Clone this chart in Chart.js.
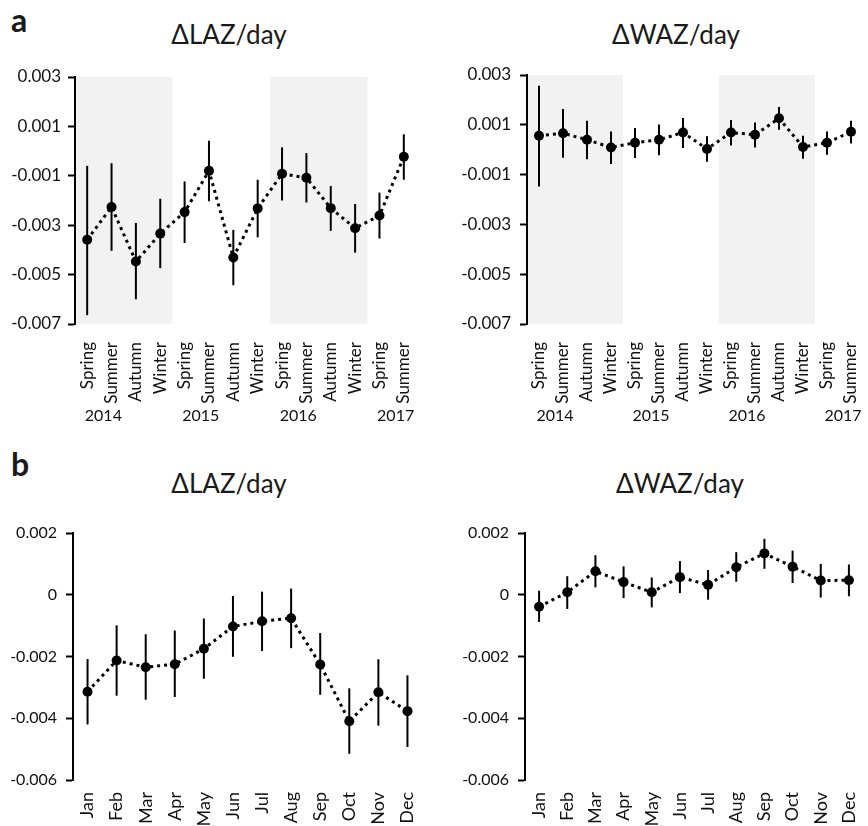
<!DOCTYPE html>
<html>
<head>
<meta charset="utf-8">
<script src="https://cdn.jsdelivr.net/npm/chart.js@4.4.1/dist/chart.umd.min.js"></script>
<style>
  body { margin: 0; background: #fff; width: 868px; height: 826px; position: relative; overflow: hidden; font-family: Lato, sans-serif; color: #1a1a1a; }
  canvas { position: absolute; }
  .title { position: absolute; font-size: 26px; line-height: 1; white-space: nowrap; transform: translateX(-50%); }
  .panel { position: absolute; font-size: 32px; font-weight: bold; line-height: 1; }
</style>
</head>
<body>
<div class="panel" style="left:11px;top:4px">a</div>
<div class="panel" style="left:11px;top:448px">b</div>
<div class="title" style="left:229px;top:21px">ΔLAZ/day</div>
<div class="title" style="left:676px;top:21px">ΔWAZ/day</div>
<div class="title" style="left:229px;top:470px">ΔLAZ/day</div>
<div class="title" style="left:680px;top:470px">ΔWAZ/day</div>

<canvas id="lazSeason" width="434" height="375" style="left:0;top:55px"></canvas>
<canvas id="wazSeason" width="434" height="375" style="left:434px;top:55px"></canvas>
<canvas id="lazMonth" width="434" height="321" style="left:0;top:505px"></canvas>
<canvas id="wazMonth" width="434" height="321" style="left:434px;top:505px"></canvas>

<script>
// categories
var seasons = ['Spring', 'Summer', 'Autumn', 'Winter', 'Spring', 'Summer', 'Autumn', 'Winter',
               'Spring', 'Summer', 'Autumn', 'Winter', 'Spring', 'Summer'];
var years = ['2014', '2015', '2016', '2017'];
var yearStart = [0, 4, 8, 12];
var shadedSeasons = [[0, 3], [8, 11]];
var months = ['Jan', 'Feb', 'Mar', 'Apr', 'May', 'Jun', 'Jul', 'Aug', 'Sep', 'Oct', 'Nov', 'Dec'];

// tick labels
var seasonTicks = [-0.007, -0.005, -0.003, -0.001, 0.001, 0.003];
var monthTicks = [-0.006, -0.004, -0.002, 0, 0.002];

// a: by season
var lazSeason   = [-0.00359, -0.00226, -0.00447, -0.00334, -0.00247, -0.00080, -0.00431, -0.00232, -0.00092, -0.00108, -0.00231, -0.00312, -0.00261, -0.00023];
var lazSeasonHi = [-0.00060, -0.00049, -0.00291, -0.00193, -0.00123,  0.00042, -0.00319, -0.00116,  0.00015, -0.00008, -0.00141, -0.00214, -0.00168,  0.00068];
var lazSeasonLo = [-0.00664, -0.00404, -0.00600, -0.00474, -0.00372, -0.00203, -0.00543, -0.00349, -0.00200, -0.00208, -0.00323, -0.00411, -0.00354, -0.00116];

var wazSeason   = [0.00056, 0.00066, 0.00040, 0.00009, 0.00028, 0.00040, 0.00069, 0.00003, 0.00069, 0.00060, 0.00126, 0.00011, 0.00028, 0.00072];
var wazSeasonHi = [0.00257, 0.00163, 0.00116, 0.00073, 0.00087, 0.00101, 0.00127, 0.00054, 0.00119, 0.00109, 0.00171, 0.00056, 0.00073, 0.00116];
var wazSeasonLo = [-0.00148, -0.00032, -0.00038, -0.00057, -0.00033, -0.00022, 0.00007, -0.00048, 0.00017, 0.00009, 0.00080, -0.00036, -0.00020, 0.00025];

// b: by month
var lazMonth   = [-0.00314, -0.00213, -0.00235, -0.00225, -0.00175, -0.00103, -0.00086, -0.00076, -0.00226, -0.00410, -0.00316, -0.00377];
var lazMonthHi = [-0.00208, -0.00099, -0.00128, -0.00116, -0.00077, -0.00004,  0.00010,  0.00020, -0.00124, -0.00303, -0.00209, -0.00261];
var lazMonthLo = [-0.00420, -0.00327, -0.00340, -0.00331, -0.00272, -0.00201, -0.00182, -0.00173, -0.00324, -0.00515, -0.00424, -0.00493];

var wazMonth   = [-0.00039, 0.00008, 0.00076, 0.00041, 0.00008, 0.00057, 0.00032, 0.00089, 0.00134, 0.00091, 0.00046, 0.00047];
var wazMonthHi = [0.00013, 0.00060, 0.00128, 0.00092, 0.00056, 0.00109, 0.00080, 0.00138, 0.00181, 0.00143, 0.00100, 0.00098];
var wazMonthLo = [-0.00088, -0.00046, 0.00024, -0.00011, -0.00041, 0.00005, -0.00016, 0.00042, 0.00084, 0.00038, -0.00009, -0.00005];

var INK = '#111';

function fmt(v) {
  if (Math.abs(v) < 1e-9) return '0';
  return v.toFixed(3);
}

// shaded bands, error bars and year labels
function makeExtras(bands, lo, hi, showYears) {
  return {
    id: 'extras',
    beforeDraw: function (chart) {
      var ctx = chart.ctx, a = chart.chartArea, x = chart.scales.x;
      var half = (x.getPixelForValue(1) - x.getPixelForValue(0)) / 2;
      ctx.save();
      ctx.fillStyle = '#f2f2f2';
      bands.forEach(function (b) {
        var l = x.getPixelForValue(b[0]) - half;
        var r = x.getPixelForValue(b[1]) + half;
        ctx.fillRect(l, a.top, r - l, a.bottom - a.top);
      });
      ctx.restore();
    },
    beforeDatasetsDraw: function (chart) {
      var ctx = chart.ctx, x = chart.scales.x, y = chart.scales.y;
      ctx.save();
      ctx.strokeStyle = '#000';
      ctx.lineWidth = 2;
      lo.forEach(function (v, i) {
        var px = x.getPixelForValue(i);
        ctx.beginPath();
        ctx.moveTo(px, y.getPixelForValue(v));
        ctx.lineTo(px, y.getPixelForValue(hi[i]));
        ctx.stroke();
      });
      ctx.restore();
    },
    afterDraw: function (chart) {
      if (!showYears) return;
      var ctx = chart.ctx, a = chart.chartArea, x = chart.scales.x;
      ctx.save();
      ctx.fillStyle = INK;
      ctx.font = '16px Lato';
      ctx.textAlign = 'center';
      ctx.textBaseline = 'middle';
      years.forEach(function (yr, k) {
        var i = yearStart[k];
        var mid = (x.getPixelForValue(i) + x.getPixelForValue(i + 1)) / 2 + 4;
        ctx.fillText(yr, mid, a.bottom + 92);
      });
      ctx.restore();
    }
  };
}

function drawChart(id, labels, values, lo, hi, yTicks, s) {
  new Chart(document.getElementById(id), {
    type: 'line',
    data: {
      labels: labels,
      datasets: [{
        data: values,
        borderColor: '#000',
        borderWidth: 3,
        borderDash: [3, 4],
        pointRadius: 5,
        pointBackgroundColor: '#000',
        pointBorderWidth: 0,
        tension: 0
      }]
    },
    options: {
      responsive: false,
      animation: false,
      devicePixelRatio: 1,
      layout: { padding: { top: s.top, right: s.right, left: 0, bottom: 0 } },
      plugins: { legend: { display: false }, tooltip: { enabled: false } },
      scales: {
        x: {
          offset: true,
          grid: { display: false },
          border: { display: false },
          afterFit: function (scale) {
            scale.height = s.xHeight;
            scale.paddingLeft = 0;
            scale.paddingRight = 0;
          },
          ticks: {
            autoSkip: false, minRotation: 90, maxRotation: 90,
            padding: s.xPad, color: INK,
            font: { family: 'Lato', size: s.xFont }
          }
        },
        y: {
          min: yTicks[0],
          max: yTicks[yTicks.length - 1],
          afterBuildTicks: function (scale) {
            scale.ticks = yTicks.map(function (v) { return { value: v }; });
          },
          afterFit: function (scale) { scale.width = s.yWidth; },
          grid: {
            display: true, drawOnChartArea: false, drawTicks: true,
            tickLength: 7, tickWidth: 2, tickColor: '#000'
          },
          border: { display: true, color: '#000', width: 2 },
          ticks: {
            padding: s.yPad, color: INK,
            font: { family: 'Lato', size: s.yFont },
            callback: function (v) { return fmt(v); }
          }
        }
      }
    },
    plugins: [makeExtras(s.bands, lo, hi, s.years)]
  });
}

drawChart('lazSeason', seasons, lazSeason, lazSeasonLo, lazSeasonHi, seasonTicks,
  { top: 22, right: 18, yWidth: 75, xHeight: 106, xPad: 10, xFont: 17, yFont: 17, yPad: 7, bands: shadedSeasons, years: true });
drawChart('wazSeason', seasons, wazSeason, wazSeasonLo, wazSeasonHi, seasonTicks,
  { top: 20, right: 3, yWidth: 93, xHeight: 106, xPad: 10, xFont: 17, yFont: 17, yPad: 9, bands: shadedSeasons, years: true });
drawChart('lazMonth', months, lazMonth, lazMonthLo, lazMonthHi, monthTicks,
  { top: 28, right: 12, yWidth: 73, xHeight: 46, xPad: 4, xFont: 18, yFont: 16, yPad: 9, bands: [], years: false });
drawChart('wazMonth', months, wazMonth, wazMonthLo, wazMonthHi, monthTicks,
  { top: 28, right: 0, yWidth: 91, xHeight: 46, xPad: 4, xFont: 18, yFont: 16, yPad: 9, bands: [], years: false });
</script>
</body>
</html>
